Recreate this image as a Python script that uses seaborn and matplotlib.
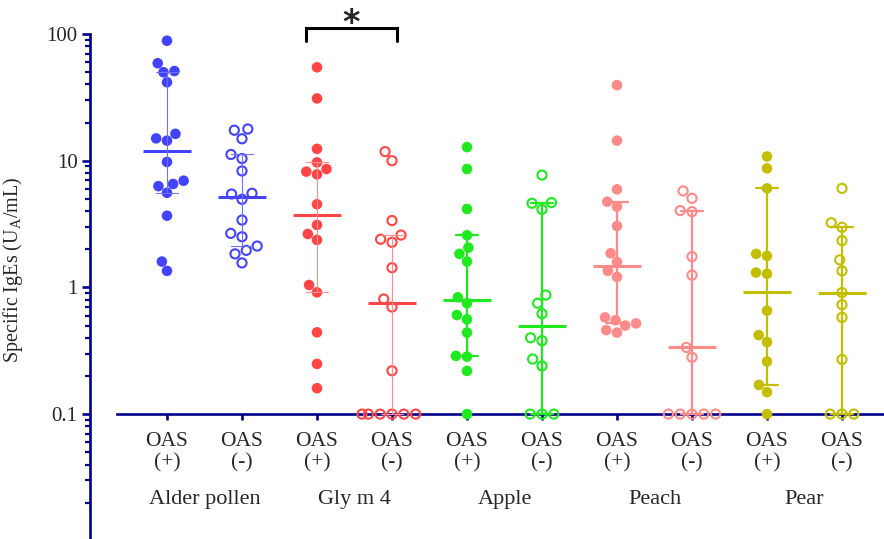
from math import comb

import numpy as np
import pandas as pd
import matplotlib.pyplot as plt
import matplotlib.ticker as mticker
import seaborn as sns

# --- values (U_A/mL), 0.1 = below detection limit ---
alder_pos = [88.5, 58.8, 51.0, 49.9, 41.6, 16.3, 15.0, 14.4, 9.77, 6.95, 6.55, 6.3, 5.58, 3.68, 1.6, 1.35]
alder_neg = [17.8, 17.4, 14.9, 11.2, 10.4, 8.3, 5.53, 5.46, 4.96, 3.40, 2.67, 2.51, 2.12, 1.96, 1.84, 1.56]
gly_pos = [54.6, 31.0, 12.4, 9.7, 8.6, 8.2, 7.8, 4.53, 3.11, 2.64, 2.37, 1.045, 0.914, 0.442, 0.249, 0.16]
gly_neg = [11.8, 10.0, 3.37, 2.59, 2.40, 2.27, 1.43, 0.81, 0.70, 0.22, 0.1, 0.1, 0.1, 0.1, 0.1, 0.1]
apple_pos = [12.8, 8.6, 4.16, 2.58, 2.06, 1.84, 1.60, 0.835, 0.75, 0.605, 0.56, 0.44, 0.288, 0.284, 0.219, 0.1]
apple_neg = [7.7, 4.67, 4.61, 4.13, 0.87, 0.75, 0.62, 0.40, 0.38, 0.272, 0.24, 0.1, 0.1, 0.1]
peach_pos = [39.5, 14.4, 5.94, 4.75, 4.34, 3.05, 1.86, 1.59, 1.35, 1.21, 0.58, 0.55, 0.52, 0.50, 0.46, 0.44]
peach_neg = [5.77, 5.05, 4.04, 3.96, 1.75, 1.25, 0.336, 0.281, 0.1, 0.1, 0.1, 0.1, 0.1]
pear_pos = [10.8, 8.7, 6.05, 1.84, 1.77, 1.31, 1.28, 0.655, 0.42, 0.37, 0.26, 0.17, 0.149, 0.1]
pear_neg = [6.05, 3.24, 2.98, 2.34, 1.65, 1.35, 0.91, 0.73, 0.58, 0.27, 0.1, 0.1, 0.1]

allergens = ['Alder pollen', 'Gly m 4', 'Apple', 'Peach', 'Pear']
colors = ['#4343FF', '#FF4545', '#1FEA1F', '#FF8A8A', '#C4BE00']
err_colors = ['#6E6EFF', '#FF8C8C', '#1FEA1F', '#FF8A8A', '#C4BE00']
err_widths = [0.8, 0.8, 1.6, 1.6, 1.6]
tick_labels = ['OAS\n(+)', 'OAS\n(-)'] * 5

series = [alder_pos, alder_neg, gly_pos, gly_neg, apple_pos, apple_neg,
          peach_pos, peach_neg, pear_pos, pear_neg]
order = [f'{a} {s}' for a in allergens for s in ('+', '-')]

rows = []
for g, vals in zip(order, series):
    for v in vals:
        rows.append({'group': g, 'value': v})
df = pd.DataFrame(rows)
palette = {g: colors[i // 2] for i, g in enumerate(order)}


def median_ci(v):
    # 95% confidence interval of the median (binomial ranks)
    s = np.sort(np.asarray(v))
    n = len(s)
    cdf, k = 0.0, 0
    while cdf + comb(n, k) / 2 ** n <= 0.025:
        cdf += comb(n, k) / 2 ** n
        k += 1
    return s[k - 1], s[n - k]


sns.set_style('ticks')
plt.rcParams['font.family'] = ['Liberation Serif', 'DejaVu Serif']
navy = '#00008B'

fig = plt.figure(figsize=(8.84, 5.39), dpi=100)
ax = fig.add_axes([90 / 884, 0, 794 / 884, 505 / 539])
ax.set_yscale('log')
ax.set_ylim(10 ** (2 - 505 / 126.7), 100)

# scatter of individual patients
filled = df[df['group'].str.endswith('+')]
opened = df[df['group'].str.endswith('-')]
sns.swarmplot(data=filled, x='group', y='value', hue='group', order=order,
              palette=palette, size=7.6, linewidth=0, legend=False, ax=ax, zorder=3)
n_before = len(ax.collections)
sns.swarmplot(data=opened, x='group', y='value', hue='group', order=order,
              palette=palette, size=6.6, linewidth=1.5, legend=False, ax=ax, zorder=3)
for coll in ax.collections[n_before:]:
    fc = coll.get_facecolors()
    coll.set_edgecolors(fc)
    coll.set_facecolors('none')

# median with 95% CI
for i, g in enumerate(order):
    k = i // 2
    sns.pointplot(data=df[df['group'] == g], x='group', y='value', order=order,
                  estimator='median', errorbar=median_ci, color=err_colors[k],
                  marker='_', markersize=35, markeredgewidth=2.2,
                  markeredgecolor=colors[k], linestyle='none', capsize=0.3,
                  err_kws={'linewidth': err_widths[k]}, ax=ax, zorder=4)

ax.set_xlim((90 - 167) / 75, (884 - 167) / 75)

# axes styling
for side in ['top', 'right']:
    ax.spines[side].set_visible(False)
ax.spines['left'].set_color(navy)
ax.spines['left'].set_linewidth(1.9)
ax.spines['bottom'].set_color(navy)
ax.spines['bottom'].set_linewidth(1.9)
ax.spines['bottom'].set_position(('data', 0.1))
ax.spines['bottom'].set_bounds((117 - 167) / 75, (884 - 167) / 75)

ax.set_yticks([0.1, 1, 10, 100])
ax.set_yticklabels(['0.1', '1', '10', '100'])
ax.yaxis.set_minor_locator(mticker.LogLocator(base=10, subs=np.arange(2, 10), numticks=20))
ax.yaxis.set_minor_formatter(mticker.NullFormatter())
ax.tick_params(axis='y', which='major', color=navy, width=1.9, length=6, labelsize=15, pad=3)
ax.tick_params(axis='y', which='minor', color=navy, width=1.6, length=3.5)

ax.set_xticks(range(len(order)))
ax.set_xticklabels(tick_labels, fontsize=15.5, linespacing=1.15)
ax.tick_params(axis='x', color=navy, width=1.9, length=4, pad=9)
ax.set_xlabel('')
ax.set_ylabel('Specific IgEs (U$_\\mathregular{A}$/mL)', fontsize=14.5)
ax.yaxis.set_label_coords((25 - 90) / 794, (539 - 270) / 505)

for j, name in enumerate(allergens):
    ax.text(2 * j + 0.5, 0.021, name, ha='center', va='center', fontsize=16)

# significance bracket
ax.plot([1.85, 1.85, 3.07, 3.07], [88, 111, 111, 88], color='black', lw=2.2,
        clip_on=False, solid_joinstyle='miter')
ax.text(2.46, 122, '*', ha='center', va='center', fontsize=24, fontweight='bold',
        family='DejaVu Sans', clip_on=False)

fig.savefig('out.png', dpi=100)
